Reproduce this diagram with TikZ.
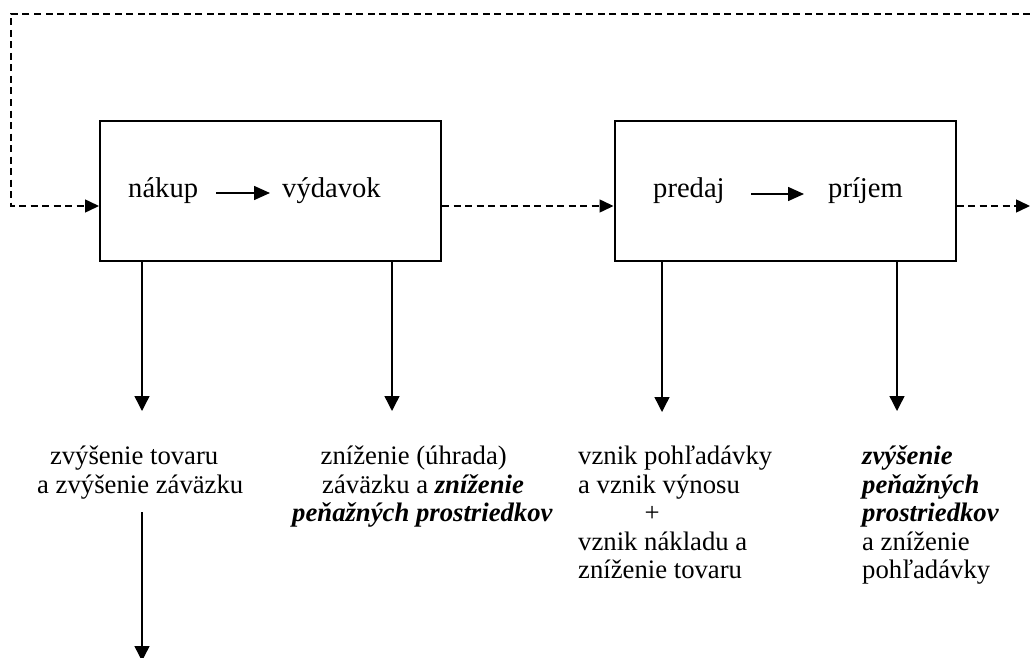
\documentclass[tikz,border=0pt]{standalone}
\usepackage{fontspec}
\setmainfont{Liberation Serif}
\usetikzlibrary{arrows.meta,calc}

\newcommand{\zvyr}[1]{\textbf{\textit{#1}}}

\begin{document}
\begin{tikzpicture}[x=1pt,y=-1pt,
	krabica/.style={draw, line width=2pt, minimum width=341pt, minimum height=140pt, inner sep=0pt},
	popis/.style={inner sep=0pt, anchor=base west, font=\fontsize{28.6}{34}\selectfont},
	stav/.style={inner sep=0pt, anchor=base west, font=\fontsize{26.7}{28.5}\selectfont},
	sipka/.style={-{Triangle[length=15pt,width=15pt]}, line width=1.4pt},
	kratka/.style={-{Triangle[length=16pt,width=14pt]}, line width=1.5pt},
	carka/.style={-{Triangle[length=14pt,width=13pt]}, line width=1.5pt, dash pattern=on 7pt off 4.5pt}]

				\useasboundingbox (0,0) rectangle (1030,658);

				% Boxes
				\node[krabica] (nakup) at (270.5,191) {};
				\node[krabica] (predaj) at (785,191) {};

				% Texts in the boxes
				\node[popis] (nakupT) at (128,197) {nákup};
				\node[popis] (vydavok) at (282,197) {výdavok};
				\node[popis] (predajT) at (653,197) {predaj};
				\node[popis] (prijem) at (828,197) {príjem};

				\draw[kratka] ([shift={(18,-4)}]nakupT.base east) -- ([shift={(-12,-4)}]vydavok.base west);
				\draw[kratka] ([shift={(26.5,-3)}]predajT.base east) -- ([shift={(-24,-3)}]prijem.base west);

				% Flow between the boxes (dashed)
				\coordinate (r1) at (1030,14);
				\coordinate (r2) at (11,14);
				\coordinate (r3) at (1030,206);
				\draw[carka] (r1) -- (r2) |- ([yshift=-15pt]nakup.west);
				\draw[carka] ([yshift=-15pt]nakup.east) -- ([yshift=-15pt]predaj.west);
				\draw[carka] ([yshift=-15pt]predaj.east) -- (r3);

				% Consequences
				\node[stav] (tovar) at (37,464.5) {\begin{tabular}[t]{@{}l@{}}\hspace*{12.8pt}zvýšenie tovaru\\a zvýšenie záväzku\end{tabular}};
				\node[stav] (uhrada) at (292,464.5) {\begin{tabular}[t]{@{}l@{}}\hspace*{28.5pt}zníženie (úhrada)\\\hspace*{30pt}záväzku a \zvyr{zníženie}\\\zvyr{peňažných prostriedkov}\end{tabular}};
				\node[stav] (vynos) at (578,464.5) {\begin{tabular}[t]{@{}l@{}}vznik pohľadávky\\a vznik výnosu\\\hspace*{66.5pt}+\\vznik nákladu a\\zníženie tovaru\end{tabular}};
				\node[stav] (penaze) at (862,464.5) {\begin{tabular}[t]{@{}l@{}}\zvyr{zvýšenie}\\\zvyr{peňažných}\\\zvyr{prostriedkov}\\a zníženie\\pohľadávky\end{tabular}};

				% Arrows down
				\coordinate (k1) at (142,411);
				\coordinate (k2) at (392,411);
				\coordinate (k3) at (662,412);
				\coordinate (k4) at (897,411);
				\draw[sipka] (nakup.south -| k1) -- (k1);
				\draw[sipka] (nakup.south -| k2) -- (k2);
				\draw[sipka] (predaj.south -| k3) -- (k3);
				\draw[sipka] (predaj.south -| k4) -- (k4);

				\coordinate (z1) at (142,512);
				\coordinate (z2) at (142,661);
				\draw[sipka] (z1) -- (z2);

\end{tikzpicture}
\end{document}
